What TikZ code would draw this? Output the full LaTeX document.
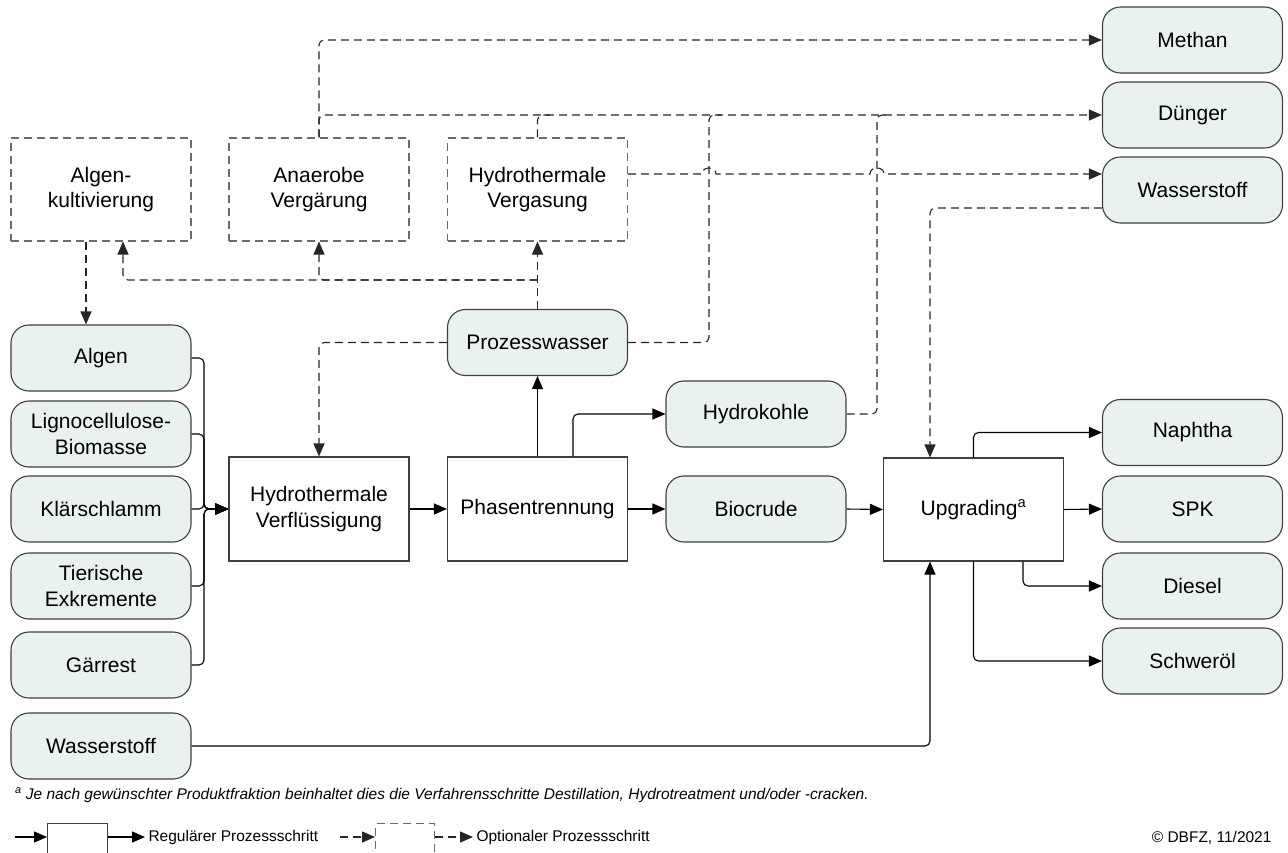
\documentclass[tikz,border=0pt]{standalone}
\usepackage{fontspec}
\setmainfont{Liberation Sans}
\usetikzlibrary{arrows.meta}
\definecolor{dbfzMint}{HTML}{E9F2EF}
\definecolor{dbfzLine}{HTML}{3F3F3F}
\definecolor{dbfzDash}{HTML}{6B6B6B}
\tikzset{
  txt/.style={font=\fontsize{21}{25.5}\selectfont},
  sm/.style={font=\fontsize{15.5}{18}\selectfont},
  prod/.style={draw=dbfzLine, fill=dbfzMint, line width=1.1pt, rounded corners=18pt,
    minimum width=180pt, minimum height=66pt, inner sep=0pt, align=center, txt},
  proc/.style={draw=dbfzLine, line width=1.1pt, minimum width=180pt,
    minimum height=104pt, inner sep=0pt, align=center, txt},
  opt/.style={proc, draw=dbfzDash, dash pattern=on 8pt off 5pt},
  flow/.style={-{Triangle[length=13pt,width=11pt]}, line width=1.1pt, rounded corners=5pt},
  optline/.style={line width=1.1pt, rounded corners=5pt, dash pattern=on 8pt off 5pt, black!85},
  optflow/.style={optline, -{Triangle[length=13pt,width=11pt]}},
}

\begin{document}
\begin{tikzpicture}[x=1pt, y=-1pt]
  \useasboundingbox (0,0) rectangle (1288,852);
  % feedstocks
  \node[prod] (algen) at (101,358) {Algen};
  \node[prod] (ligno) at (101,434) {Lignocellulose-\\Biomasse};
  \node[prod] (klaer) at (101,509) {Klärschlamm};
  \node[prod] (tier)  at (101,586) {Tierische\\Exkremente};
  \node[prod] (gaer)  at (101,665) {Gärrest};
  \node[prod] (wsin)  at (101,746) {Wasserstoff};
  % optional steps
  \node[opt, minimum height=103pt] (kult)  at (101,189.5)   {Algen-\\kultivierung};
  \node[opt, minimum height=103pt] (anaer) at (319,189.5)   {Anaerobe\\Vergärung};
  \node[opt, minimum height=103pt] (hvg)   at (537.5,189.5) {Hydrothermale\\Vergasung};
  % main chain
  \node[proc] (htl)   at (319,509)   {Hydrothermale\\Verflüssigung};
  \node[proc] (phase) at (537.5,509) {Phasentrennung};
  \node[prod] (pw)    at (537.5,342.5) {Prozesswasser};
  \node[prod] (hk)    at (756,414)   {Hydrokohle};
  \node[prod] (bc)    at (756,509)   {Biocrude};
  \node[proc, minimum height=103pt] (upg) at (973.5,509.5) {Upgrading\textsuperscript{a}};
  % products
  \node[prod] (methan)  at (1192.5,40)    {Methan};
  \node[prod] (duenger) at (1192.5,115)   {Dünger};
  \node[prod] (wsout)   at (1192.5,190)   {Wasserstoff};
  \node[prod] (naph)    at (1192.5,432.5) {Naphtha};
  \node[prod] (spk)     at (1192.5,509)   {SPK};
  \node[prod] (diesel)  at (1192.5,586)   {Diesel};
  \node[prod] (schwer)  at (1192.5,661)   {Schweröl};

  \coordinate (bus) at (204,509);
  \coordinate (pwjoin) at (537.5,280);
  \coordinate (hopA) at (709,174);
  \coordinate (hopB) at (877,174);

  % regular flows
  \foreach \src in {algen,ligno,klaer,tier,gaer}
    \draw[flow] (\src.east) -| (bus) -- (htl.west);
  \draw[flow] (htl.east) -- (phase.west);
  \draw[flow] (phase.north) -- (pw.south);
  \draw[flow] ([xshift=35.5pt]phase.north) |- (hk.west);
  \draw[flow] (phase.east) -- (bc.west);
  \draw[flow] (bc.east) -- (upg.west);
  \draw[flow] (upg.north) |- (naph.west);
  \draw[flow] (upg.east) -- (spk.west);
  \draw[flow] ([xshift=49.5pt]upg.south) |- (diesel.west);
  \draw[flow] (upg.south) |- (schwer.west);
  \draw[flow] (wsin.east) -| ([xshift=-43.5pt]upg.south);

  % optional flows
  \draw[optflow] ([xshift=-15pt]kult.south) -- ([xshift=-15pt]algen.north);
  \draw[optflow] (pw.north) -- (hvg.south);
  \draw[optflow] (pwjoin) -| (anaer.south);
  \draw[optflow] (pwjoin) -| ([xshift=22pt]kult.south);
  \draw[optflow] (pw.west) -| (htl.north);
  \draw[optflow] (anaer.north) |- (methan.west);
  \draw[optflow] (anaer.north) |- (duenger.west);
  \draw[optline] (hvg.north) |- ([xshift=12pt]hvg.north |- duenger.west);
  \draw[optline] (pw.east) -| (hopA) |- ([xshift=12pt]hopA |- duenger.west);
  \draw[optline] (hk.east) -| (hopB) |- ([xshift=12pt]hopB |- duenger.west);
  \draw[optflow, sharp corners] ([yshift=15.5pt]hvg.east) -- ([xshift=-7pt]hopA)
    .. controls +(0,-8) and +(0,-8) .. ([xshift=7pt]hopA) -- ([xshift=-7pt]hopB)
    .. controls +(0,-8) and +(0,-8) .. ([xshift=7pt]hopB) -- ([yshift=16pt]wsout.west);
  \draw[optflow] ([yshift=-18pt]wsout.west) -| ([xshift=-43.5pt]upg.north);

  % footnote and legend
  \node[sm, anchor=west] (fn) at (11.5,795)
    {\itshape\textsuperscript{a} Je nach gewünschter Produktfraktion beinhaltet dies die Verfahrensschritte Destillation, Hydrotreatment und/oder -cracken.};
  \node[proc, minimum width=60pt, minimum height=60pt, anchor=north west] (legreg) at (47,823) {};
  \coordinate (legregin) at (15,837);
  \draw[flow] (legregin) -- (legregin -| legreg.west);
  \node[sm, anchor=west] (legregtxt) at (145,837) {Regulärer Prozessschritt};
  \draw[flow] (legregin -| legreg.east) -- (legregtxt.west);
  \node[opt, minimum width=59pt, minimum height=60pt, anchor=north west] (legopt) at (375,823) {};
  \coordinate (legoptin) at (340,837);
  \draw[optflow] (legoptin) -- (legoptin -| legopt.west);
  \node[sm, anchor=west] (legopttxt) at (473,837) {Optionaler Prozessschritt};
  \draw[optflow] (legoptin -| legopt.east) -- (legopttxt.west);
  \node[sm, anchor=east] (copy) at (1275,838) {© DBFZ, 11/2021};
\end{tikzpicture}
\end{document}
